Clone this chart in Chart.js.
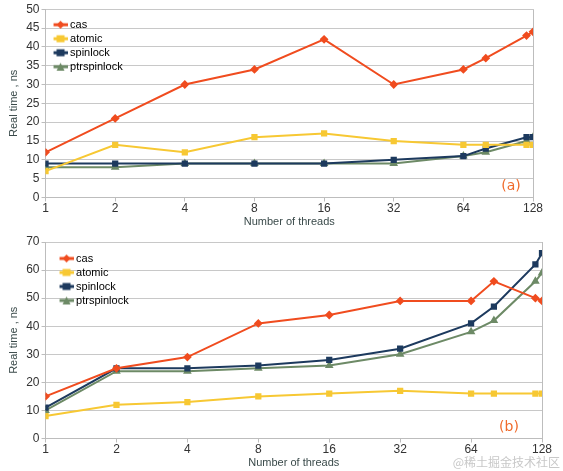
<!DOCTYPE html>
<html>
<head>
<meta charset="utf-8">
<script src="https://cdn.jsdelivr.net/npm/chart.js@4.4.1/dist/chart.umd.min.js"></script>
<style>
  body { margin: 0; background: #fff; width: 563px; height: 471px; position: relative; overflow: hidden; }
  .box { position: absolute; left: 0; width: 563px; }
  #boxA { top: 0; height: 228px; }
  #boxB { top: 228px; height: 243px; }
  #mark { position: absolute; right: 3px; top: 453px; font: 12px "Noto Sans CJK SC", sans-serif; color: #c8c8c8; }
</style>
</head>
<body>
<div class="box" id="boxA"><canvas id="chartA"></canvas></div>
<div class="box" id="boxB"><canvas id="chartB"></canvas></div>
<div id="mark">@稀土掘金技术社区</div>
<script>
const threads = [1, 2, 4, 8, 16, 32, 64, 80, 120, 128];
const tickThreads = [1, 2, 4, 8, 16, 32, 64, 128];
const seriesNames = ['cas', 'atomic', 'spinlock', 'ptrspinlock'];

// (a)
const casA = [12, 21, 30, 34, 42, 30, 34, 37, 43, 44];
const atomicA = [7, 14, 12, 16, 17, 15, 14, 14, 14, 14];
const spinlockA = [9, 9, 9, 9, 9, 10, 11, 13, 16, 16];
const ptrspinlockA = [8, 8, 9, 9, 9, 9, 11, 12, 15, 16];

// (b)
const casB = [15, 25, 29, 41, 44, 49, 49, 56, 50, 49];
const atomicB = [8, 12, 13, 15, 16, 17, 16, 16, 16, 16];
const spinlockB = [11, 25, 25, 26, 28, 32, 41, 47, 62, 66];
const ptrspinlockB = [10, 24, 24, 25, 26, 30, 38, 42, 56, 59];

const colors = ['#f04c1f', '#f7c833', '#1d3a5e', '#6d8a66'];
const markers = ['rectRot', 'rect', 'rect', 'triangle'];
const fontFamily = '"Liberation Sans", Arial, sans-serif';

function legendIcon(color, style)
{
    const c = document.createElement('canvas');
    c.width = 15;
    c.height = 10;
    const g = c.getContext('2d');
    g.strokeStyle = color;
    g.fillStyle = color;
    g.lineWidth = 3;
    g.beginPath();
    g.moveTo(0, 5);
    g.lineTo(15, 5);
    g.stroke();
    g.beginPath();
    if (style === 'rectRot') {
        g.moveTo(7.5, 1); g.lineTo(11.5, 5); g.lineTo(7.5, 9); g.lineTo(3.5, 5);
    } else if (style === 'triangle') {
        g.moveTo(7.5, 1); g.lineTo(11.5, 9); g.lineTo(3.5, 9);
    } else {
        g.rect(3.5, 1.5, 8, 7);
    }
    g.closePath();
    g.fill();
    return c;
}

function makeDatasets(lists)
{
    return lists.map(function (vals, i) {
        return {
            label: seriesNames[i],
            data: vals.map(function (v, k) { return { x: threads[k], y: v }; }),
            borderColor: colors[i],
            backgroundColor: colors[i],
            borderWidth: 2,
            pointStyle: markers[i],
            pointRadius: 3,
            pointHoverRadius: 3,
            legendIcon: legendIcon(colors[i], markers[i])
        };
    });
}

// puts the legend inside the plot, and writes the (a)/(b) tag
const placePlugin = {
    id: 'place',
    afterLayout(chart, args, opts) {
        const lg = chart.legend;
        const a = chart.chartArea;
        const h = lg.height;
        lg.left = a.left + opts.dx;
        lg.top = a.top + opts.dy;
        lg.bottom = lg.top + h;
    },
    afterDraw(chart, args, opts) {
        const ctx = chart.ctx;
        const a = chart.chartArea;
        ctx.save();
        ctx.fillStyle = '#f06a2a';
        ctx.font = '14px "DejaVu Sans", sans-serif';
        ctx.textAlign = 'center';
        ctx.textBaseline = 'middle';
        ctx.fillText(opts.text, a.right - opts.tx, a.bottom - 11);
        ctx.restore();
    }
};

function makeChart(id, lists, yMax, yStep, pad, place)
{
    return new Chart(document.getElementById(id).getContext('2d'), {
        type: 'line',
        data: { datasets: makeDatasets(lists) },
        plugins: [placePlugin],
        options: {
            responsive: true,
            maintainAspectRatio: false,
            animation: false,
            layout: { padding: pad },
            plugins: {
                tooltip: { enabled: false },
                place: place,
                legend: {
                    position: 'chartArea',
                    align: 'start',
                    labels: {
                        usePointStyle: true,
                        pointStyleWidth: 8,
                        padding: 3,
                        color: '#2a2a2a',
                        font: { size: 11, family: fontFamily },
                        generateLabels: function (chart) {
                            return chart.data.datasets.map(function (ds, i) {
                                return {
                                    text: ds.label,
                                    pointStyle: ds.legendIcon,
                                    fillStyle: ds.borderColor,
                                    strokeStyle: ds.borderColor,
                                    lineWidth: 0,
                                    datasetIndex: i,
                                    hidden: false
                                };
                            });
                        }
                    }
                }
            },
            scales: {
                x: {
                    type: 'logarithmic',
                    min: 1,
                    max: 128,
                    afterBuildTicks: function (scale) {
                        scale.ticks = tickThreads.map(function (v) { return { value: v }; });
                    },
                    ticks: {
                        autoSkip: false,
                        maxRotation: 0,
                        color: '#333',
                        padding: 0,
                        font: { size: 12, family: fontFamily },
                        callback: function (v) { return String(v); }
                    },
                    grid: {
                        color: function (c) { return c.tick && c.tick.value === 128 ? '#bdbdbd' : 'rgba(0,0,0,0)'; },
                        tickColor: '#bdbdbd',
                        tickLength: 4
                    },
                    border: { color: '#bdbdbd' },
                    title: {
                        display: true,
                        text: 'Number of threads',
                        color: '#3a4a4a',
                        padding: { top: 0, bottom: 0 },
                        font: { size: 11, family: fontFamily, lineHeight: 1.1 }
                    }
                },
                y: {
                    min: 0,
                    max: yMax,
                    ticks: {
                        stepSize: yStep,
                        color: '#333',
                        padding: 2,
                        font: { size: 12, family: fontFamily }
                    },
                    grid: { color: '#c8c8c8', tickColor: '#bdbdbd', tickLength: 4 },
                    border: { color: '#bdbdbd' },
                    title: {
                        display: true,
                        text: 'Real time , ns',
                        color: '#3a4a4a',
                        padding: { top: 0, bottom: 4 },
                        font: { size: 11, family: fontFamily }
                    }
                }
            }
        }
    });
}

makeChart('chartA', [casA, atomicA, spinlockA, ptrspinlockA], 50, 5,
    { top: 2, right: 30, left: 7, bottom: 0 }, { text: '(a)', tx: 22, dx: 8, dy: 7 });
makeChart('chartB', [casB, atomicB, spinlockB, ptrspinlockB], 70, 10,
    { top: 14, right: 21, left: 7, bottom: 2 }, { text: '(b)', tx: 33, dx: 14, dy: 8 });
</script>
</body>
</html>
